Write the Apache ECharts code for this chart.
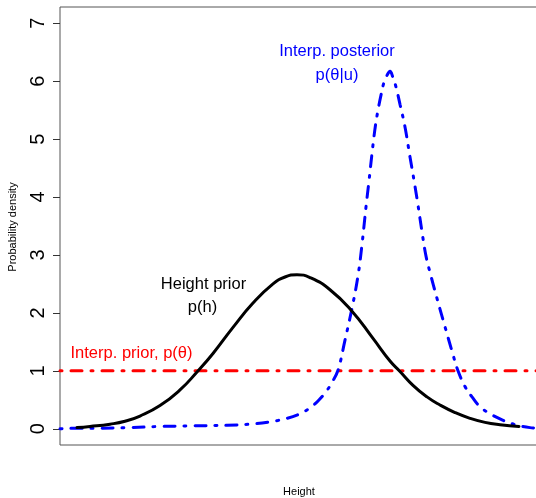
<!DOCTYPE html>
<html>
<head>
<meta charset="utf-8">
<script src="https://cdn.jsdelivr.net/npm/echarts@6/dist/echarts.min.js"></script>
<style>
html,body{margin:0;padding:0;background:#fff;}
#c{width:536px;height:498px;}
</style>
</head>
<body>
<div id="c"></div>
<script>
// Height axis (arbitrary units) and densities
var priorHeightX = [77,90,110,125,140,160,180,197,213,233,253,273,285,297,310,330,352,373,390,400,413,427,440,455,470,485,500,519];
var priorHeightY = [0.02,0.04,0.08,0.13,0.22,0.40,0.67,0.98,1.30,1.75,2.17,2.50,2.62,2.66,2.61,2.40,2.03,1.56,1.17,0.99,0.75,0.55,0.41,0.28,0.18,0.11,0.07,0.04];

var posteriorX = [60,80,100,130,160,193,227,250,270,287,300,310,318,326,332,338,345,352,358,362,366,369,372,375,378,381,384,387,390,393,396,400,405,410,414,418,422,426,430,437,445,452,458,465,472,480,490,500,510,520,530,546];
var posteriorY = [0.00,0.01,0.01,0.02,0.04,0.05,0.06,0.08,0.12,0.18,0.26,0.36,0.48,0.64,0.80,1.01,1.53,2.08,2.64,3.18,3.83,4.28,4.75,5.18,5.50,5.76,5.98,6.10,6.17,6.06,5.90,5.60,5.21,4.69,4.29,3.86,3.40,2.98,2.70,2.25,1.76,1.34,1.00,0.73,0.55,0.38,0.26,0.17,0.10,0.05,0.02,0.00];

var flatPriorX = [60,546];
var flatPriorY = [1,1];

var yTicks = [0,1,2,3,4,5,6,7];

function pairs(xs, ys){ return xs.map(function(x,i){ return [x, ys[i]]; }); }

var FONT = '"Liberation Sans", Arial, Helvetica, sans-serif';
var chart = echarts.init(document.getElementById('c'), null, {renderer:'canvas'});
chart.setOption({
  animation:false,
  backgroundColor:'#fff',
  grid:{left:60, top:7, width:486, bottom:53, show:true, borderColor:'#555', borderWidth:1,
        backgroundColor:'transparent', outerBoundsMode:'none', containLabel:false},
  xAxis:{type:'value', min:60, max:546, show:false},
  yAxis:{
    type:'value', min:-0.28, max:7.28,
    axisLine:{show:false},
    splitLine:{show:false},
    axisTick:{show:true, length:7, inside:false, customValues:yTicks, lineStyle:{color:'#333', width:1}},
    axisLabel:{show:true, customValues:yTicks, rotate:90, margin:12, fontSize:20, color:'#000', fontFamily:FONT}
  },
  series:[
    {type:'line', data:pairs(flatPriorX, flatPriorY), showSymbol:false, symbol:'none',
     lineStyle:{color:'#ff0000', width:3, type:[2,9,11,9], cap:'round'}, z:2},
    {type:'line', data:pairs(posteriorX, posteriorY), showSymbol:false, symbol:'none', smooth:0.4,
     lineStyle:{color:'#0000ff', width:3, type:[2,9,11,9], cap:'round'}, z:3},
    {type:'line', data:pairs(priorHeightX, priorHeightY), showSymbol:false, symbol:'none', smooth:0.5,
     lineStyle:{color:'#000', width:3, type:'solid', cap:'round', join:'round'}, z:4}
  ],
  graphic:[
    {type:'text', x:203.5, y:284, style:{text:'Height prior', font:'16.5px '+FONT, fill:'#000', align:'center', verticalAlign:'middle'}},
    {type:'text', x:202.5, y:307, style:{text:'p(h)', font:'16.5px '+FONT, fill:'#000', align:'center', verticalAlign:'middle'}},
    {type:'text', x:337, y:51, style:{text:'Interp. posterior', font:'16.5px '+FONT, fill:'#0000ff', align:'center', verticalAlign:'middle'}},
    {type:'text', x:337, y:75, style:{text:'p(\u03b8|u)', font:'16.5px '+FONT, fill:'#0000ff', align:'center', verticalAlign:'middle'}},
    {type:'text', x:131.5, y:353, style:{text:'Interp. prior, p(\u03b8)', font:'16.5px '+FONT, fill:'#ff0000', align:'center', verticalAlign:'middle'}},
    {type:'text', x:13, y:227, rotation:Math.PI/2, style:{text:'Probability density', font:'11px '+FONT, fill:'#000', align:'center', verticalAlign:'middle'}},
    {type:'text', x:299, y:492, style:{text:'Height', font:'11px '+FONT, fill:'#000', align:'center', verticalAlign:'middle'}}
  ]
});
</script>
</body>
</html>
